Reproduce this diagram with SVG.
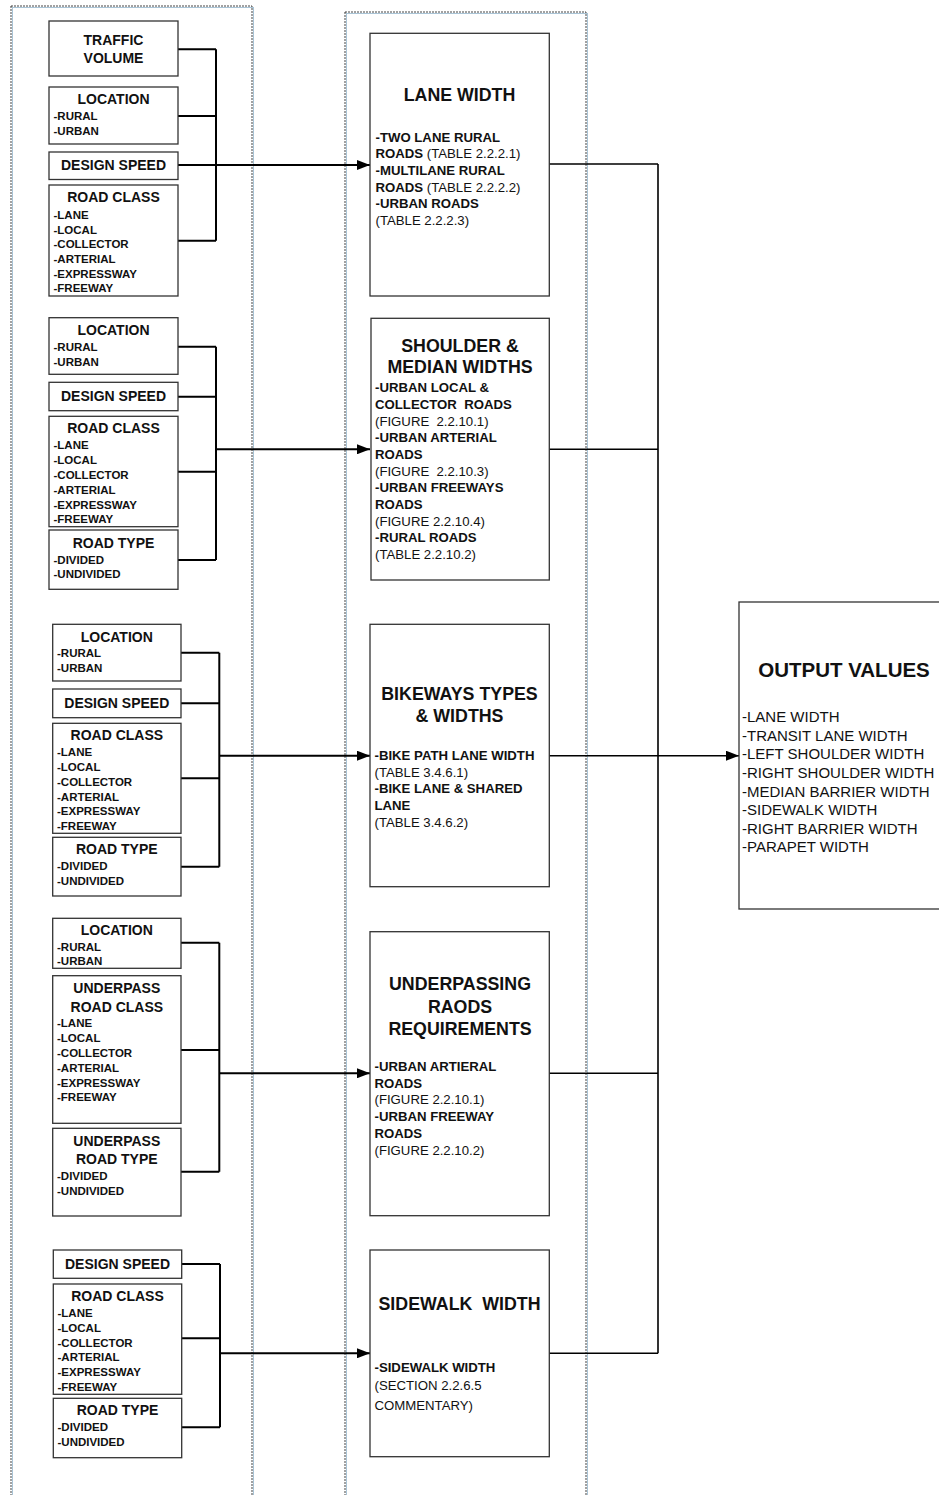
<svg xmlns="http://www.w3.org/2000/svg" width="939" height="1495" viewBox="0 0 939 1495">
  <style>
    .frame-blue { fill: none; stroke: #a9c4d6; stroke-width: 1; }
    .frame { fill: none; stroke: #444; stroke-width: 1; stroke-dasharray: 2 1; }
    .box { fill: #fff; stroke: #333; stroke-width: 1.3; }
    text { font-family: "Liberation Sans", Arial, sans-serif; fill: #111; white-space: pre; }
    .h { font-weight: bold; font-size: 14px; text-anchor: middle; }
    .i { font-weight: bold; font-size: 11.5px; }
    .mh { font-weight: bold; font-size: 17.8px; text-anchor: middle; }
    .mb { font-size: 13.2px; }
    .b { font-weight: bold; }
    .oh { font-weight: bold; font-size: 20.5px; text-anchor: middle; }
    .ob { font-size: 15px; }
    .wire { fill: none; stroke: #000; stroke-width: 2; }
    .wire-r { fill: none; stroke: #000; stroke-width: 1.6; }
  </style>
  <defs>
    <marker id="ah" markerUnits="userSpaceOnUse" markerWidth="13" markerHeight="10" refX="13" refY="5" orient="auto">
      <path d="M0,0 L13,5 L0,10 Z" fill="#000"/>
    </marker>
  </defs>

  <rect width="939" height="1495" fill="#fff"/>

  <!-- dashed group frames -->
  <g id="frames">
    <rect class="frame-blue" x="12.5" y="7.5" width="241" height="1500"/>
    <rect class="frame" x="11" y="6" width="241" height="1500"/>
    <rect class="frame-blue" x="346.5" y="13.5" width="241" height="1500"/>
    <rect class="frame" x="345" y="12" width="241" height="1500"/>
  </g>

  <!-- connectors -->
  <g id="connectors">
    <path class="wire" d="M178 49.3 H216 M178 116 H216 M178 165 H216 M178 240.7 H216 M216 49.3 V240.7"/>
    <path class="wire" d="M216 165 H370" marker-end="url(#ah)"/>

    <path class="wire" d="M178 346.7 H216 M178 396.7 H216 M178 471.7 H216 M178 560 H216 M216 346.7 V560"/>
    <path class="wire" d="M216 449.3 H370" marker-end="url(#ah)"/>

    <path class="wire" d="M181 652.7 H219.3 M181 703.3 H219.3 M181 778.3 H219.3 M181 866.7 H219.3 M219.3 652.7 V866.7"/>
    <path class="wire" d="M219.3 755.7 H370" marker-end="url(#ah)"/>

    <path class="wire" d="M181 942.7 H219.3 M181 1050 H219.3 M181 1171.7 H219.3 M219.3 942.7 V1171.7"/>
    <path class="wire" d="M219.3 1073.3 H370" marker-end="url(#ah)"/>

    <path class="wire" d="M181.7 1264 H220 M181.7 1338.3 H220 M181.7 1427.3 H220 M220 1264 V1427.3"/>
    <path class="wire" d="M220 1353.3 H370" marker-end="url(#ah)"/>

    <path class="wire-r" d="M549 164 H658 M549 449.3 H658 M549 755.7 H658 M549 1073.3 H658 M549 1353.3 H658 M658 164 V1353.3"/>
    <path class="wire-r" d="M658 755.7 H739" marker-end="url(#ah)"/>
  </g>

  <!-- inputs: lane width -->
  <g id="traffic-volume-1">
    <rect class="box" x="49" y="21" width="129" height="55"/>
    <text class="h" x="113.5" y="45">TRAFFIC</text>
    <text class="h" x="113.5" y="63.3">VOLUME</text>
  </g>
  <g id="location-1">
    <rect class="box" x="49" y="87" width="129" height="57"/>
    <text class="h" x="113.5" y="104.3">LOCATION</text>
    <text class="i" x="53.5" y="120">-RURAL</text>
    <text class="i" x="53.5" y="135">-URBAN</text>
  </g>
  <g id="design-speed-1">
    <rect class="box" x="49" y="152" width="129" height="27.5"/>
    <text class="h" x="113.5" y="170">DESIGN SPEED</text>
  </g>
  <g id="road-class-1">
    <rect class="box" x="49" y="185" width="129" height="111"/>
    <text class="h" x="113.5" y="202.3">ROAD CLASS</text>
    <text class="i" x="53.5" y="219">-LANE</text>
    <text class="i" x="53.5" y="233.5">-LOCAL</text>
    <text class="i" x="53.5" y="248">-COLLECTOR</text>
    <text class="i" x="53.5" y="262.7">-ARTERIAL</text>
    <text class="i" x="53.5" y="277.5">-EXPRESSWAY</text>
    <text class="i" x="53.5" y="292.2">-FREEWAY</text>
  </g>

  <!-- inputs: shoulder & median -->
  <g id="location-2">
    <rect class="box" x="49" y="317.7" width="129" height="56.6"/>
    <text class="h" x="113.5" y="335">LOCATION</text>
    <text class="i" x="53.5" y="350.7">-RURAL</text>
    <text class="i" x="53.5" y="365.7">-URBAN</text>
  </g>
  <g id="design-speed-2">
    <rect class="box" x="49" y="382.3" width="129" height="28.4"/>
    <text class="h" x="113.5" y="401">DESIGN SPEED</text>
  </g>
  <g id="road-class-2">
    <rect class="box" x="49" y="416.3" width="129" height="110.4"/>
    <text class="h" x="113.5" y="433.3">ROAD CLASS</text>
    <text class="i" x="53.5" y="449">-LANE</text>
    <text class="i" x="53.5" y="464">-LOCAL</text>
    <text class="i" x="53.5" y="479">-COLLECTOR</text>
    <text class="i" x="53.5" y="494">-ARTERIAL</text>
    <text class="i" x="53.5" y="509">-EXPRESSWAY</text>
    <text class="i" x="53.5" y="523.3">-FREEWAY</text>
  </g>
  <g id="road-type-2">
    <rect class="box" x="49" y="530" width="129" height="59.3"/>
    <text class="h" x="113.5" y="548.3">ROAD TYPE</text>
    <text class="i" x="53.5" y="564">-DIVIDED</text>
    <text class="i" x="53.5" y="578.3">-UNDIVIDED</text>
  </g>

  <!-- inputs: bikeways -->
  <g id="location-3">
    <rect class="box" x="52.7" y="624.3" width="128.3" height="56.7"/>
    <text class="h" x="116.8" y="641.7">LOCATION</text>
    <text class="i" x="57" y="656.7">-RURAL</text>
    <text class="i" x="57" y="671.7">-URBAN</text>
  </g>
  <g id="design-speed-3">
    <rect class="box" x="52.7" y="689" width="128.3" height="28.7"/>
    <text class="h" x="116.8" y="707.5">DESIGN SPEED</text>
  </g>
  <g id="road-class-3">
    <rect class="box" x="52.7" y="723.3" width="128.3" height="110"/>
    <text class="h" x="116.8" y="740">ROAD CLASS</text>
    <text class="i" x="57" y="756.3">-LANE</text>
    <text class="i" x="57" y="771.3">-LOCAL</text>
    <text class="i" x="57" y="786">-COLLECTOR</text>
    <text class="i" x="57" y="800.5">-ARTERIAL</text>
    <text class="i" x="57" y="815.3">-EXPRESSWAY</text>
    <text class="i" x="57" y="830">-FREEWAY</text>
  </g>
  <g id="road-type-3">
    <rect class="box" x="52.7" y="837.3" width="128.3" height="58.7"/>
    <text class="h" x="116.8" y="854">ROAD TYPE</text>
    <text class="i" x="57" y="870">-DIVIDED</text>
    <text class="i" x="57" y="885">-UNDIVIDED</text>
  </g>

  <!-- inputs: underpassing roads -->
  <g id="location-4">
    <rect class="box" x="52.7" y="918.3" width="128.3" height="50"/>
    <text class="h" x="116.8" y="935">LOCATION</text>
    <text class="i" x="57" y="950.7">-RURAL</text>
    <text class="i" x="57" y="965.3">-URBAN</text>
  </g>
  <g id="underpass-road-class">
    <rect class="box" x="52.7" y="975.7" width="128.3" height="147.6"/>
    <text class="h" x="116.8" y="993.3">UNDERPASS</text>
    <text class="h" x="116.8" y="1011.7">ROAD CLASS</text>
    <text class="i" x="57" y="1027.3">-LANE</text>
    <text class="i" x="57" y="1042.3">-LOCAL</text>
    <text class="i" x="57" y="1057.3">-COLLECTOR</text>
    <text class="i" x="57" y="1072.3">-ARTERIAL</text>
    <text class="i" x="57" y="1086.7">-EXPRESSWAY</text>
    <text class="i" x="57" y="1101.3">-FREEWAY</text>
  </g>
  <g id="underpass-road-type">
    <rect class="box" x="52.7" y="1128.3" width="128.3" height="87.7"/>
    <text class="h" x="116.8" y="1145.7">UNDERPASS</text>
    <text class="h" x="116.8" y="1164.3">ROAD TYPE</text>
    <text class="i" x="57" y="1180">-DIVIDED</text>
    <text class="i" x="57" y="1195">-UNDIVIDED</text>
  </g>

  <!-- inputs: sidewalk -->
  <g id="design-speed-5">
    <rect class="box" x="53.3" y="1250" width="128.4" height="28.3"/>
    <text class="h" x="117.5" y="1268.5">DESIGN SPEED</text>
  </g>
  <g id="road-class-5">
    <rect class="box" x="53.3" y="1284" width="128.4" height="110.3"/>
    <text class="h" x="117.5" y="1301">ROAD CLASS</text>
    <text class="i" x="57.5" y="1317.3">-LANE</text>
    <text class="i" x="57.5" y="1332.3">-LOCAL</text>
    <text class="i" x="57.5" y="1346.5">-COLLECTOR</text>
    <text class="i" x="57.5" y="1361">-ARTERIAL</text>
    <text class="i" x="57.5" y="1376">-EXPRESSWAY</text>
    <text class="i" x="57.5" y="1390.7">-FREEWAY</text>
  </g>
  <g id="road-type-5">
    <rect class="box" x="53.3" y="1398.3" width="128.4" height="59.4"/>
    <text class="h" x="117.5" y="1415">ROAD TYPE</text>
    <text class="i" x="57.5" y="1431">-DIVIDED</text>
    <text class="i" x="57.5" y="1446">-UNDIVIDED</text>
  </g>

  <!-- design criteria -->
  <g id="lane-width">
    <rect class="box" x="370" y="33.3" width="179.3" height="262.7"/>
    <text class="mh" x="459.5" y="101">LANE WIDTH</text>
    <text class="mb" x="375.5" y="141.5"><tspan class="b">-TWO LANE RURAL</tspan></text>
    <text class="mb" x="375.5" y="158.2"><tspan class="b">ROADS</tspan> (TABLE 2.2.2.1)</text>
    <text class="mb" x="375.5" y="174.9"><tspan class="b">-MULTILANE RURAL</tspan></text>
    <text class="mb" x="375.5" y="191.6"><tspan class="b">ROADS</tspan> (TABLE 2.2.2.2)</text>
    <text class="mb" x="375.5" y="208.3"><tspan class="b">-URBAN ROADS</tspan></text>
    <text class="mb" x="375.5" y="225">(TABLE 2.2.2.3)</text>
  </g>
  <g id="shoulder-median-widths">
    <rect class="box" x="371" y="318.3" width="178.3" height="261.7"/>
    <text class="mh" x="460" y="352.3">SHOULDER &amp;</text>
    <text class="mh" x="460" y="373.3">MEDIAN WIDTHS</text>
    <text class="mb" x="375" y="392.3"><tspan class="b">-URBAN LOCAL &amp;</tspan></text>
    <text class="mb" x="375" y="409"><tspan class="b">COLLECTOR  ROADS</tspan></text>
    <text class="mb" x="375" y="425.7">(FIGURE  2.2.10.1)</text>
    <text class="mb" x="375" y="442.3"><tspan class="b">-URBAN ARTERIAL</tspan></text>
    <text class="mb" x="375" y="459"><tspan class="b">ROADS</tspan></text>
    <text class="mb" x="375" y="475.7">(FIGURE  2.2.10.3)</text>
    <text class="mb" x="375" y="492.3"><tspan class="b">-URBAN FREEWAYS</tspan></text>
    <text class="mb" x="375" y="509"><tspan class="b">ROADS</tspan></text>
    <text class="mb" x="375" y="525.7">(FIGURE 2.2.10.4)</text>
    <text class="mb" x="375" y="542.3"><tspan class="b">-RURAL ROADS</tspan></text>
    <text class="mb" x="375" y="559">(TABLE 2.2.10.2)</text>
  </g>
  <g id="bikeways-types-widths">
    <rect class="box" x="370" y="624.3" width="179.3" height="262.4"/>
    <text class="mh" x="459.5" y="700">BIKEWAYS TYPES</text>
    <text class="mh" x="459.5" y="722.3">&amp; WIDTHS</text>
    <text class="mb" x="374.5" y="760"><tspan class="b">-BIKE PATH LANE WIDTH</tspan></text>
    <text class="mb" x="374.5" y="776.7">(TABLE 3.4.6.1)</text>
    <text class="mb" x="374.5" y="793.4"><tspan class="b">-BIKE LANE &amp; SHARED</tspan></text>
    <text class="mb" x="374.5" y="810.1"><tspan class="b">LANE</tspan></text>
    <text class="mb" x="374.5" y="826.8">(TABLE 3.4.6.2)</text>
  </g>
  <g id="underpassing-roads-requirements">
    <rect class="box" x="370" y="931.7" width="179.3" height="284"/>
    <text class="mh" x="460" y="990">UNDERPASSING</text>
    <text class="mh" x="460" y="1012.5">RAODS</text>
    <text class="mh" x="460" y="1035">REQUIREMENTS</text>
    <text class="mb" x="374.5" y="1071"><tspan class="b">-URBAN ARTIERAL</tspan></text>
    <text class="mb" x="374.5" y="1087.7"><tspan class="b">ROADS</tspan></text>
    <text class="mb" x="374.5" y="1104.4">(FIGURE 2.2.10.1)</text>
    <text class="mb" x="374.5" y="1121.1"><tspan class="b">-URBAN FREEWAY</tspan></text>
    <text class="mb" x="374.5" y="1137.8"><tspan class="b">ROADS</tspan></text>
    <text class="mb" x="374.5" y="1154.5">(FIGURE 2.2.10.2)</text>
  </g>
  <g id="sidewalk-width">
    <rect class="box" x="370" y="1250" width="179.3" height="206.7"/>
    <text class="mh" x="459.5" y="1309.5">SIDEWALK  WIDTH</text>
    <text class="mb" x="374.5" y="1371.5"><tspan class="b">-SIDEWALK WIDTH</tspan></text>
    <text class="mb" x="374.5" y="1389.5">(SECTION 2.2.6.5</text>
    <text class="mb" x="374.5" y="1410">COMMENTARY)</text>
  </g>

  <!-- result -->
  <g id="output-values">
    <rect class="box" x="739" y="602" width="210" height="307"/>
    <text class="oh" x="844" y="677">OUTPUT VALUES</text>
    <text class="ob" x="742" y="722.3">-LANE WIDTH</text>
    <text class="ob" x="742" y="740.9">-TRANSIT LANE WIDTH</text>
    <text class="ob" x="742" y="759.4">-LEFT SHOULDER WIDTH</text>
    <text class="ob" x="742" y="778">-RIGHT SHOULDER WIDTH</text>
    <text class="ob" x="742" y="796.6">-MEDIAN BARRIER WIDTH</text>
    <text class="ob" x="742" y="815.2">-SIDEWALK WIDTH</text>
    <text class="ob" x="742" y="833.7">-RIGHT BARRIER WIDTH</text>
    <text class="ob" x="742" y="852.3">-PARAPET WIDTH</text>
  </g>
</svg>
